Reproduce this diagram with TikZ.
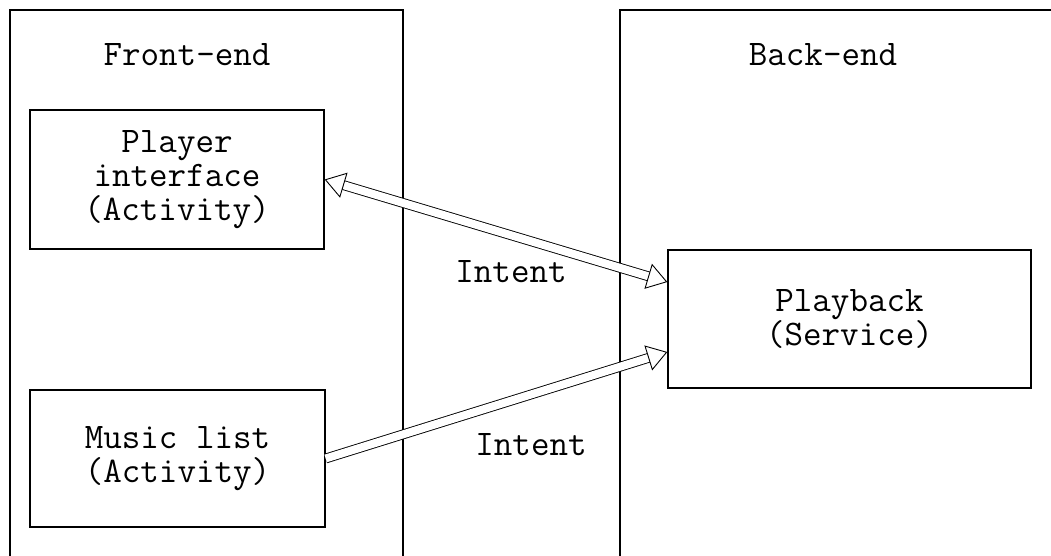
\documentclass[tikz,border=0pt]{standalone}
\usetikzlibrary{arrows.meta}
\begin{document}
\begin{tikzpicture}[x=1pt, y=-1pt,
	txt/.style={font=\ttfamily\fontsize{36pt}{34pt}\selectfont, align=center, inner sep=0pt},
	box/.style={txt, draw, line width=1.3pt, inner sep=0pt},
	dbl/.style={draw, line width=0.9pt, double=white, double distance=8pt},
	head/.tip={Triangle[open, length=20pt, width=26pt, line width=0.9pt]}]
	\useasboundingbox (0,0) rectangle (1051,556);
	\clip (0,0) rectangle (1051,556);
	% the two sides
	\draw[line width=1.6pt] (10,600) -- (10,10) -- (403,10) -- (403,600);
	\draw[line width=1.6pt] (620,600) -- (620,10) -- (1100,10);
	\node[txt] (front) at (187,55) {Front-end};
	\node[txt] (back) at (823,55) {Back-end};
	% activities and service
	\node[box, minimum width=294pt, minimum height=139pt] (player) at (177,179.5) {Player\\interface\\(Activity)};
	\node[box, minimum width=295pt, minimum height=137pt] (list) at (177.5,458.5) {Music list\\(Activity)};
	\node[box, minimum width=363pt, minimum height=138pt] (play) at (849.5,319) {Playback\\(Service)};
	% intents
	\draw[dbl, head-head] (player.east) -- ([yshift=37pt]play.west);
	\draw[dbl, -head] (list.east) -- ([yshift=-33pt]play.west);
	\node[txt] (intentA) at (511,272) {Intent};
	\node[txt] (intentB) at (531,445) {Intent};
\end{tikzpicture}
\end{document}
